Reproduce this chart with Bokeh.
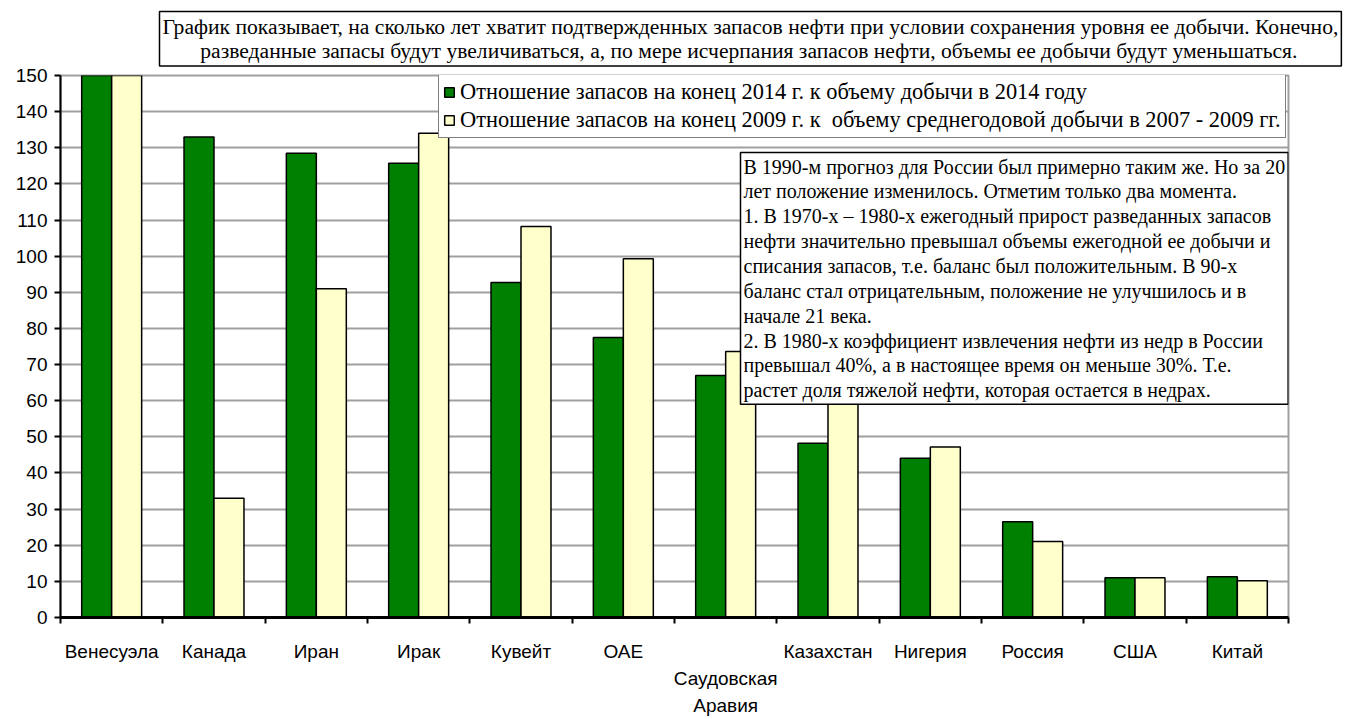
from bokeh.plotting import figure
from bokeh.models import (Range1d, LinearAxis, FixedTicker, Label,
                          Legend, LegendItem, ColumnDataSource)
from bokeh.transform import dodge
from bokeh.embed import file_html
from bokeh.resources import INLINE

countries = ["Венесуэла", "Канада", "Иран", "Ирак", "Кувейт", "ОАЕ",
             "Саудовская Аравия", "Казахстан", "Нигерия", "Россия", "США", "Китай"]
country_labels = ["Венесуэла", "Канада", "Иран", "Ирак", "Кувейт", "ОАЕ",
                  "\nСаудовская\nАравия", "Казахстан", "Нигерия", "Россия", "США", "Китай"]
rp_2014 = [300.0, 133.0, 128.5, 125.7, 92.7, 77.5, 67.0, 48.2, 44.1, 26.5, 11.0, 11.3]
rp_2009 = [190.0, 33.0, 91.0, 134.0, 108.2, 99.3, 73.6, 65.0, 47.2, 21.0, 11.0, 10.2]
y_ticks = list(range(0, 151, 10))
series_names = ["Отношение запасов на конец 2014 г. к объему добычи в 2014 году",
                "Отношение запасов на конец 2009 г. к  объему среднегодовой добычи в 2007 - 2009 гг."]
NBSP = "\u00a0"
top_note = ("График показывает, на сколько лет хватит подтвержденных запасов нефти при условии сохранения уровня ее добычи. Конечно,\n"
            + NBSP * 7 +
            "разведанные запасы будут увеличиваться, а, по мере исчерпания запасов нефти, объемы ее добычи будут уменьшаться.")
russia_note = ("В 1990-м прогноз для России был примерно таким же. Но за 20\n"
               "лет положение изменилось. Отметим только два момента.\n"
               "1. В 1970-х – 1980-х ежегодный прирост разведанных запасов\n"
               "нефти значительно превышал объемы ежегодной ее добычи и\n"
               "списания запасов, т.е. баланс был положительным. В 90-х\n"
               "баланс стал отрицательным, положение не улучшилось и в\n"
               "начале 21 века.\n"
               "2. В 1980-х коэффициент извлечения нефти из недр в России\n"
               "превышал 40%,  а в настоящее время он меньше 30%. Т.е.\n"
               "растет доля тяжелой нефти, которая остается в недрах.")

GREEN = "#008000"
YELLOW = "#FFFFCC"
SANS = "Liberation Sans"
SERIF = "Liberation Serif"

n = len(countries)
centres = [i + 0.5 for i in range(n)]
src = ColumnDataSource(dict(pos=centres, country=countries, a=rp_2014, b=rp_2009))

p = figure(width=1346, height=719, output_backend="svg", toolbar_location=None,
           x_range=Range1d(0, n), y_range=Range1d(0, 150),
           x_axis_location=None,
           min_border_left=60, min_border_right=58, min_border_top=74, min_border_bottom=101)

bw = 0.293
r1 = p.vbar(x=dodge("pos", -bw / 2), top="a", width=bw, source=src,
            fill_color=GREEN, line_color="black", line_width=1.5)
r2 = p.vbar(x=dodge("pos", bw / 2), top="b", width=bw, source=src,
            fill_color=YELLOW, line_color="black", line_width=1.5)

# x axis: labels at category centres, ticks at category boundaries
xa = LinearAxis(ticker=FixedTicker(ticks=centres, minor_ticks=list(range(n + 1))))
xa.major_label_overrides = {c: lab for c, lab in zip(centres, country_labels)}
xa.major_tick_line_color = None
xa.major_tick_out = 6
xa.major_tick_in = 0
xa.minor_tick_line_color = "black"
xa.minor_tick_line_width = 2
xa.minor_tick_out = 6
xa.minor_tick_in = 0
xa.axis_line_color = "black"
xa.axis_line_width = 3
xa.major_label_standoff = 17
xa.major_label_text_font = SANS
xa.major_label_text_font_size = "19px"
xa.major_label_text_color = "black"
xa.major_label_text_line_height = 1.3
p.add_layout(xa, "below")

ya = p.yaxis[0]
ya.ticker = FixedTicker(ticks=y_ticks)
ya.axis_line_color = "black"
ya.axis_line_width = 2
ya.major_tick_line_color = "black"
ya.major_tick_line_width = 2
ya.major_tick_out = 6
ya.major_tick_in = 0
ya.minor_tick_line_color = None
ya.major_label_standoff = 7
ya.major_label_text_font = SANS
ya.major_label_text_font_size = "19px"
ya.major_label_text_color = "black"

p.xgrid.visible = False
p.ygrid.ticker = FixedTicker(ticks=y_ticks)
p.ygrid.grid_line_color = "#A0A0A0"
p.ygrid.grid_line_width = 2
p.outline_line_color = "#A0A0A0"
p.outline_line_width = 2
p.background_fill_color = "white"
p.border_fill_color = "white"

# top note as the plot title, boxed
p.title.text = top_note
p.title.align = "left"
p.title.offset = 99
p.title.standoff = 19
p.title.text_font = SERIF
p.title.text_font_size = "21.6px"
p.title.text_font_style = "normal"
p.title.text_color = "black"
p.title.text_line_height = 1.02
p.title.padding = 3
p.title.border_line_color = "black"
p.title.border_line_width = 1.5
p.title.background_fill_color = "white"

legend = Legend(items=[LegendItem(label=series_names[0], renderers=[r1]),
                       LegendItem(label=series_names[1], renderers=[r2])],
                location=(378, 479), orientation="vertical",
                label_text_font=SERIF, label_text_font_size="22.4px", label_text_color="black",
                glyph_width=12, glyph_height=12, label_height=20, spacing=2, padding=4,
                margin=0, label_standoff=5,
                border_line_color="black", border_line_width=1.5,
                background_fill_color="white", background_fill_alpha=1.0)
p.add_layout(legend, "center")

note_label = Label(x=680, y=465, x_units="screen", y_units="screen", text=russia_note,
                   text_align="left", text_baseline="top",
                   text_font=SERIF, text_font_size="20px", text_line_height=1.13,
                   text_color="black", padding=3,
                   border_line_color="black", border_line_width=1.5,
                   background_fill_color="white", background_fill_alpha=1.0)
p.add_layout(note_label)

open("out.html", "w").write(file_html(p, INLINE))
